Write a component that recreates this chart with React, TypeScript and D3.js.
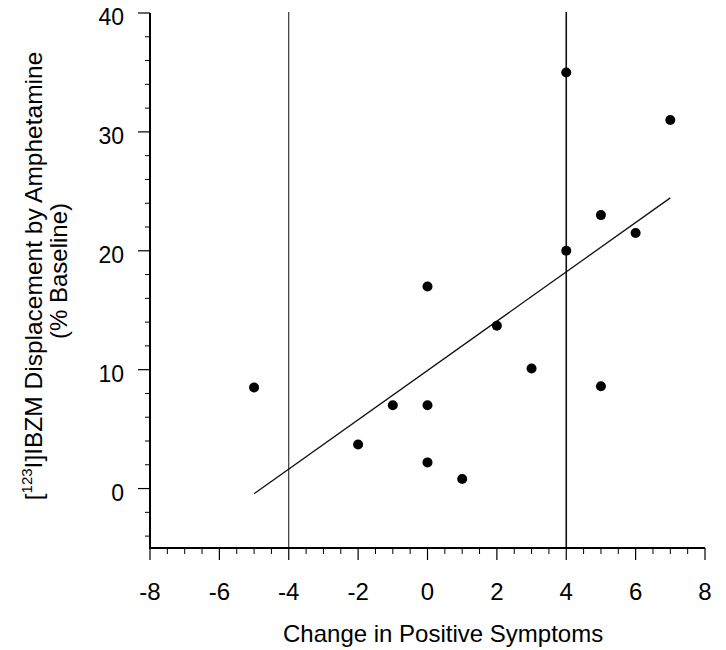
import React from "react";
import * as d3 from "d3";

const changeInPositive = [-5, -2, -1, 0, 0, 0, 1, 2, 3, 4, 4, 5, 5, 6, 7];
const displacement = [8.5, 3.7, 7, 17, 7, 2.2, 0.8, 13.7, 10.1, 35, 20, 23, 8.6, 21.5, 31];
const xTickValues = [-8, -6, -4, -2, 0, 2, 4, 6, 8];
const yTickValues = [0, 10, 20, 30, 40];
const cutoffLines = [-4, 4];
const xDomain: [number, number] = [-8, 8];
const yDomain: [number, number] = [-5, 40];

const W = 726;
const H = 650;
const FONT = "'Liberation Sans', Arial, Helvetica, sans-serif";

export default function App() {
  const x = d3.scaleLinear().domain(xDomain).range([150, 705]);
  const y = d3.scaleLinear().domain(yDomain).range([548, 13]);

  const mx = d3.mean(changeInPositive) as number;
  const my = d3.mean(displacement) as number;
  let sxy = 0;
  let sxx = 0;
  changeInPositive.forEach((v, i) => {
    sxy += (v - mx) * (displacement[i] - my);
    sxx += (v - mx) * (v - mx);
  });
  const slope = sxy / sxx;
  const intercept = my - slope * mx;
  const [xmin, xmax] = d3.extent(changeInPositive) as [number, number];
  const regLine = d3.line<number>().x((d) => x(d)).y((d) => y(intercept + slope * d));

  const xMinor = d3.range(xDomain[0], xDomain[1] + 0.01, 0.5).filter((v) => Math.abs(v % 2) > 0.01);
  const yMinor = d3.range(-4, 40, 2).filter((v) => Math.abs(v % 10) > 0.01);

  const y0 = y(yDomain[0]);
  const x0 = x(xDomain[0]);

  return (
    <svg width={W} height={H} style={{ position: "absolute", left: 0, top: 0, background: "#fff" }} fontFamily={FONT}>
      <rect width={W} height={H} fill="#fff" />
      {cutoffLines.map((c, i) => (
        <line key={c} x1={x(c)} x2={x(c)} y1={12} y2={y0} stroke="#111" strokeWidth={i === 0 ? 1 : 1.6} />
      ))}
      <path d={regLine([xmin, xmax]) || ""} fill="none" stroke="#111" strokeWidth={1.3} />
      {changeInPositive.map((v, i) => (
        <circle key={i} cx={x(v)} cy={y(displacement[i])} r={5} fill="#000" />
      ))}
      <line x1={x0} x2={x0} y1={y(40)} y2={y0 + 1} stroke="#000" strokeWidth={2} />
      <line x1={x0 - 1} x2={x(xDomain[1])} y1={y0} y2={y0} stroke="#000" strokeWidth={2} />
      {yTickValues.map((t) => (
        <g key={"yt" + t}>
          <line x1={x0 - 12} x2={x0} y1={y(t)} y2={y(t)} stroke="#000" strokeWidth={1.2} />
          <text x={124} y={y(t) + 12} textAnchor="end" fontSize={23} fill="#000">
            {t}
          </text>
        </g>
      ))}
      {yMinor.map((t) => (
        <line key={"ym" + t} x1={x0 - 5} x2={x0} y1={y(t)} y2={y(t)} stroke="#000" strokeWidth={1} />
      ))}
      {xTickValues.map((t) => (
        <g key={"xt" + t}>
          <line x1={x(t)} x2={x(t)} y1={y0} y2={y0 + 12} stroke="#000" strokeWidth={1.2} />
          <text x={x(t)} y={600} textAnchor="middle" fontSize={24} fill="#000">
            {String(t)}
          </text>
        </g>
      ))}
      {xMinor.map((t) => (
        <line key={"xm" + t} x1={x(t)} x2={x(t)} y1={y0} y2={y0 + 6} stroke="#000" strokeWidth={1} />
      ))}
      <text x={283} y={642} fontSize={24} fill="#000">
        Change in Positive Symptoms
      </text>
      <g transform={`translate(42, 276) rotate(-90)`}>
        <text x={0} y={0} textAnchor="middle" fontSize={24.5} fill="#000">
          [<tspan fontSize={15} dy={-10}>123</tspan>
          <tspan dy={10}>I]IBZM Displacement by Amphetamine</tspan>
        </text>
      </g>
      <g transform={`translate(67, 271) rotate(-90)`}>
        <text x={0} y={0} textAnchor="middle" fontSize={24} fill="#000">
          (% Baseline)
        </text>
      </g>
    </svg>
  );
}
